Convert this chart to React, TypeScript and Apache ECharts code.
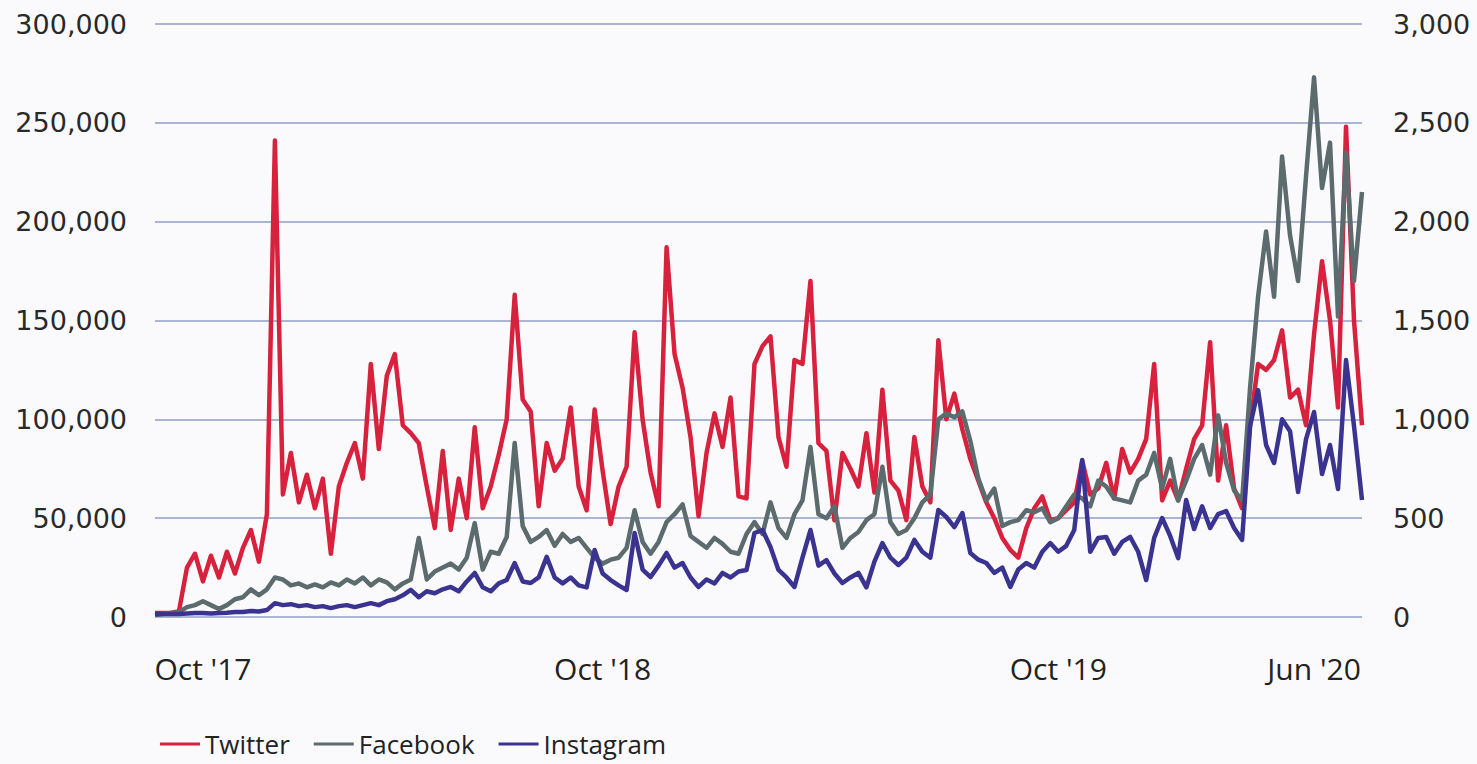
import React, { useEffect, useRef } from "react";
import * as echarts from "echarts";

// Twitter mentions (left axis)
const twitter = [
  2000, 2000, 2000, 3000, 25000, 32000, 18000, 31000, 20000, 33000,
  22000, 35000, 44000, 28000, 52000, 241000, 62000, 83000, 58000, 72000,
  55000, 70000, 32000, 66000, 78000, 88000, 70000, 128000, 85000, 122000,
  133000, 97000, 93000, 88000, 66000, 45000, 84000, 44000, 70000, 50000,
  96000, 55000, 66000, 82000, 100000, 163000, 110000, 104000, 56000, 88000,
  74000, 80000, 106000, 66000, 54000, 105000, 74000, 47000, 66000, 76000,
  144000, 100000, 73000, 56000, 187000, 133000, 116000, 91000, 51000, 83000,
  103000, 86000, 111000, 61000, 60000, 128000, 137000, 142000, 91000, 76000,
  130000, 128000, 170000, 88000, 84000, 49000, 83000, 75000, 66000, 93000,
  63000, 115000, 69000, 64000, 49000, 91000, 66000, 58000, 140000, 100000,
  113000, 95000, 80000, 69000, 58000, 50000, 40000, 34000, 30000, 45000,
  55000, 61000, 49000, 50000, 54000, 58000, 79000, 62000, 65000, 78000,
  60000, 85000, 73000, 80000, 90000, 128000, 59000, 69000, 59000, 75000,
  90000, 97000, 139000, 69000, 97000, 65000, 55000, 97000, 128000, 125000,
  130000, 145000, 111000, 115000, 97000, 143000, 180000, 150000, 106000, 248000,
  150000, 97000,
];

// Facebook mentions (right axis)
const facebook = [
  10, 15, 20, 25, 50, 60, 80, 60, 40, 60,
  90, 100, 140, 110, 140, 200, 190, 160, 170, 150,
  165, 150, 175, 160, 190, 170, 200, 160, 190, 175,
  140, 170, 190, 400, 190, 230, 250, 270, 240, 300,
  475, 240, 330, 320, 405, 880, 460, 380, 405, 440,
  360, 420, 380, 400, 350, 300, 270, 290, 300, 350,
  540, 380, 320, 380, 480, 520, 570, 410, 380, 350,
  400, 370, 330, 320, 420, 480, 420, 580, 450, 400,
  520, 590, 860, 520, 500, 560, 350, 400, 430, 490,
  520, 760, 480, 420, 440, 500, 580, 620, 1000, 1030,
  1010, 1040, 890, 700, 590, 650, 460, 480, 490, 540,
  530, 550, 480, 500, 560, 620, 600, 560, 690, 660,
  600, 590, 580, 690, 720, 830, 650, 800, 590, 690,
  800, 870, 720, 1020, 780, 640, 590, 1160, 1620, 1950,
  1620, 2330, 1930, 1700, 2230, 2730, 2170, 2400, 1520, 2350,
  1700, 2150,
];

// Instagram mentions (right axis)
const instagram = [
  15, 15, 15, 15, 18, 20, 20, 18, 20, 22,
  25, 25, 30, 28, 35, 70, 60, 65, 55, 60,
  50, 55, 45, 55, 60, 50, 60, 70, 60, 80,
  90, 110, 137, 100, 130, 120, 140, 152, 130, 180,
  223, 150, 130, 170, 187, 273, 180, 172, 200, 304,
  200, 170, 200, 160, 150, 339, 220, 187, 160, 137,
  425, 240, 202, 260, 324, 250, 273, 200, 152, 190,
  170, 223, 200, 230, 238, 425, 440, 354, 238, 200,
  152, 300, 440, 260, 288, 220, 172, 200, 223, 150,
  280, 374, 300, 263, 300, 390, 330, 300, 541, 506,
  455, 526, 324, 290, 273, 223, 250, 152, 240, 273,
  250, 330, 374, 330, 360, 440, 794, 330, 400, 405,
  320, 380, 405, 330, 187, 400, 501, 410, 298, 592,
  445, 560, 450, 520, 536, 450, 390, 966, 1148, 870,
  779, 1000, 940, 632, 900, 1037, 723, 870, 648, 1300,
  966, 592,
];

const seriesNames = ["Twitter", "Facebook", "Instagram"];
const seriesColors = ["#d7213d", "#5c6b6e", "#3a3490"];
const xTickLabels = ["Oct '17", "Oct '18", "Oct '19", "Jun '20"];
const xTickIndex = [6, 56, 113, 145];

// weekly observation dates
const startDate = Date.UTC(2017, 7, 14);
const categories = twitter.map((_, i) =>
  new Date(startDate + i * 7 * 86400000).toISOString().slice(0, 10)
);

const fmt = (v: number) => v.toLocaleString("en-US");

export default function App() {
  const ref = useRef<HTMLDivElement>(null);
  useEffect(() => {
    const chart = echarts.init(ref.current!, null, { renderer: "svg" });
    chart.setOption({
      animation: false,
      backgroundColor: "#fafafd",
      color: seriesColors,
      grid: { left: 155, right: 115, top: 24, bottom: 147 },
      legend: {
        data: seriesNames,
        left: 155,
        top: 726,
        icon: "rect",
        itemWidth: 40,
        itemHeight: 3,
        itemGap: 24,
        textStyle: { fontFamily: "Open Sans", fontSize: 26, color: "#222" },
      },
      xAxis: {
        type: "category",
        data: categories,
        boundaryGap: false,
        axisLine: { show: false },
        axisTick: { show: false },
        splitLine: { show: false },
        axisLabel: {
          interval: (i: number) => xTickIndex.includes(i),
          formatter: (_v: string, i: number) => {
            const k = xTickIndex.indexOf(i);
            return k >= 0 ? xTickLabels[k] : "";
          },
          margin: 36,
          fontFamily: "Open Sans",
          fontSize: 30,
          color: "#222",
        },
      },
      yAxis: [
        {
          type: "value",
          min: 0,
          max: 300000,
          interval: 50000,
          axisLine: { show: false },
          axisTick: { show: false },
          splitLine: { lineStyle: { color: "#aab5d3", width: 2 } },
          axisLabel: {
            formatter: fmt,
            margin: 28,
            fontFamily: "DejaVu Sans",
            fontSize: 27,
            color: "#2a2a2a",
          },
        },
        {
          type: "value",
          min: 0,
          max: 3000,
          interval: 500,
          position: "right",
          axisLine: { show: false },
          axisTick: { show: false },
          splitLine: { show: false },
          axisLabel: {
            formatter: fmt,
            margin: 31,
            fontFamily: "DejaVu Sans",
            fontSize: 27,
            color: "#2a2a2a",
          },
        },
      ],
      series: [
        {
          name: seriesNames[0],
          type: "line",
          yAxisIndex: 0,
          data: twitter,
          showSymbol: false,
          lineStyle: { width: 4.5, join: "round" },
        },
        {
          name: seriesNames[1],
          type: "line",
          yAxisIndex: 1,
          data: facebook,
          showSymbol: false,
          lineStyle: { width: 4.5, join: "round" },
        },
        {
          name: seriesNames[2],
          type: "line",
          yAxisIndex: 1,
          data: instagram,
          showSymbol: false,
          lineStyle: { width: 4.5, join: "round" },
        },
      ],
    });
    return () => chart.dispose();
  }, []);
  return (
    <div
      ref={ref}
      style={{ position: "fixed", left: 0, top: 0, width: 1477, height: 764 }}
    />
  );
}
